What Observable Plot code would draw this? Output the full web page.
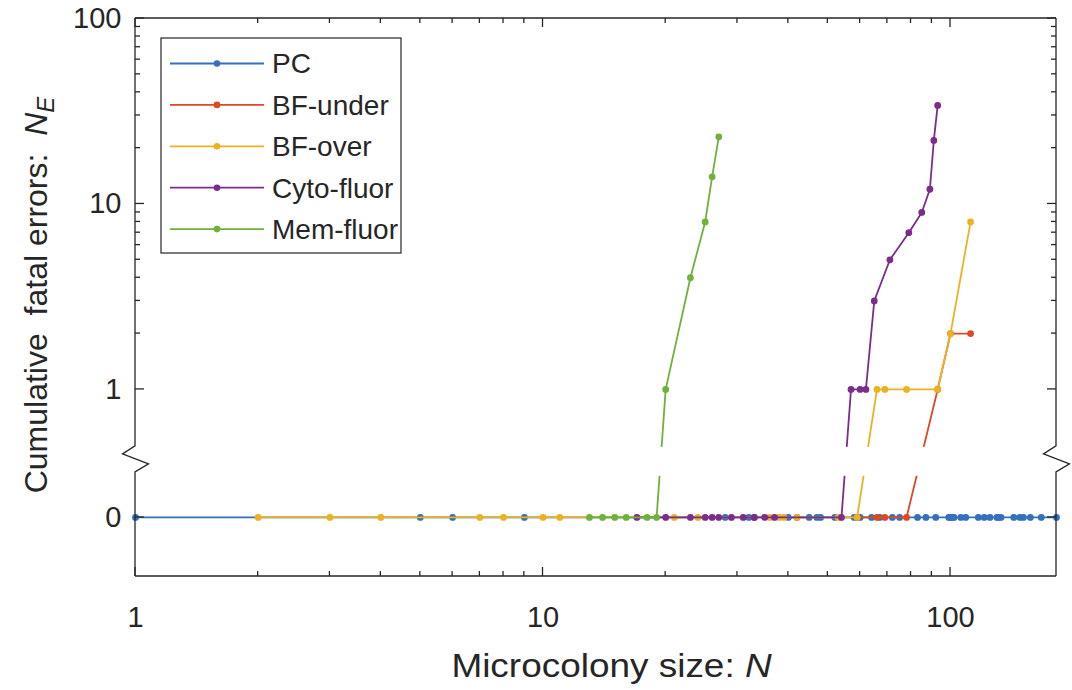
<!DOCTYPE html>
<html><head><meta charset="utf-8">
<script src="https://cdn.jsdelivr.net/npm/d3@7"></script>
<script src="https://cdn.jsdelivr.net/npm/@observablehq/plot@0.6"></script>
<style>
html,body{margin:0;padding:0;background:#fff;}
#chart{width:1072px;height:690px;}
</style></head><body><div id="chart"></div>
<script>
// ---------- data ----------
const seriesNames = ["PC", "BF-under", "BF-over", "Cyto-fluor", "Mem-fluor"];
const seriesColors = ["#3570BD", "#DB4A22", "#EDB120", "#7B2D8B", "#6FB13A"];

const pcN = [1, 5, 6, 9, 28, 32, 33, 40, 42, 45, 47, 48, 52, 58, 60, 64, 67, 72, 75, 83, 87, 92, 99, 100, 101, 102, 106, 109, 117, 121, 125, 130, 131, 133, 143, 148, 151, 157, 167, 182];
const pcE = [0, 0, 0, 0, 0, 0, 0, 0, 0, 0, 0, 0, 0, 0, 0, 0, 0, 0, 0, 0, 0, 0, 0, 0, 0, 0, 0, 0, 0, 0, 0, 0, 0, 0, 0, 0, 0, 0, 0, 0];

const bfUnderN = [59, 66, 69, 78, 93, 100, 112];
const bfUnderE = [0, 0, 0, 0, 1, 2, 2];

const bfOverN = [2, 3, 4, 7, 8, 10, 11, 21, 24, 36, 38, 39, 42, 53, 59, 66, 69, 78, 93, 100, 112];
const bfOverE = [0, 0, 0, 0, 0, 0, 0, 0, 0, 0, 0, 0, 0, 0, 0, 1, 1, 1, 1, 2, 8];

const cytoN = [17, 20, 23, 25, 26, 27, 29, 31, 33, 35, 37, 54, 57, 60, 62, 65, 71, 79, 85, 89, 91, 93];
const cytoE = [0, 0, 0, 0, 0, 0, 0, 0, 0, 0, 0, 0, 1, 1, 1, 3, 5, 7, 9, 12, 22, 34];

const memN = [13, 14, 15, 16, 18, 19, 20, 23, 25, 26, 27];
const memE = [0, 0, 0, 0, 0, 0, 1, 4, 8, 14, 23];

const xTicks = [1, 10, 100];
const xTickLabels = ["1", "10", "100"];
const yTicks = [0, 1, 10, 100];
const yTickLabels = ["0", "1", "10", "100"];
const minorTicks = [2, 3, 4, 5, 6, 7, 8, 9, 20, 30, 40, 50, 60, 70, 80, 90];

const xLabel = "Microcolony size: ";
const xLabelVar = "N";
const yLabel = "Cumulative  fatal errors:  ";
const yLabelVar = "N";
const yLabelSub = "E";

// ---------- broken-axis settings ----------
const ZERO = 0.204;            // where N_E = 0 sits on the log axis
const X_DOMAIN = [1, 182];
const Y_DOMAIN = [0.098, 100];
const GAP = [0.34, 0.487];     // axis break band
const toY = v => v === 0 ? ZERO : v;

const seriesData = [
  [pcN, pcE], [bfUnderN, bfUnderE], [bfOverN, bfOverE], [cytoN, cytoE], [memN, memE]
].map(([N, E], k) => N.map((n, i) => ({series: seriesNames[k], n, e: E[i]})));

const FONT = "'Liberation Sans', Arial, Helvetica, sans-serif";
const INK = "#262626";

const marks = [];
seriesData.forEach((d, k) => {
  marks.push(Plot.line(d, {x: "n", y: r => toY(r.e), stroke: seriesColors[k], strokeWidth: 1.8}));
  marks.push(Plot.dot(d, {x: "n", y: r => toY(r.e), fill: seriesColors[k], r: 3.4, stroke: "none"}));
});
marks.push(Plot.rect([{x1: X_DOMAIN[0], x2: X_DOMAIN[1], y1: GAP[0], y2: GAP[1]}],
  {x1: "x1", x2: "x2", y1: "y1", y2: "y2", fill: "white", inset: 0}));
marks.push(Plot.axisX(xTicks, {tickSize: 0, tickPadding: 30, tickFormat: d => xTickLabels[xTicks.indexOf(d)], fontSize: 29, fill: INK, label: null}));
marks.push(Plot.axisY(yTicks.map(toY), {tickSize: 0, tickPadding: 14, tickFormat: d => yTickLabels[yTicks.map(toY).indexOf(d)], fontSize: 29, fill: INK, label: null}));

const plot = Plot.plot({
  width: 1072, height: 690,
  marginLeft: 135, marginRight: 16, marginTop: 18, marginBottom: 114,
  x: {type: "log", domain: X_DOMAIN},
  y: {type: "log", domain: Y_DOMAIN},
  style: {fontFamily: FONT, background: "white", color: INK},
  marks
});
document.getElementById("chart").appendChild(plot);

// ---------- frame, ticks, break symbols, legend, labels ----------
const sx = plot.scale("x"), sy = plot.scale("y");
const X = v => sx.apply(v), Y = v => sy.apply(v);
const svg = d3.select(plot);
const L = X(X_DOMAIN[0]), R = X(X_DOMAIN[1]), T = Y(Y_DOMAIN[1]), B = Y(Y_DOMAIN[0]);
const g = svg.append("g").attr("stroke", INK).attr("stroke-width", 1.3).attr("fill", "none");
const gTop = Y(GAP[1]) - 1;

g.append("line").attr("x1", L).attr("x2", R).attr("y1", T).attr("y2", T);
g.append("line").attr("x1", L).attr("x2", R).attr("y1", B).attr("y2", B);
[L, R].forEach(x0 => {
  g.append("path").attr("d",
    `M${x0},${T}V${gTop}L${x0 - 12.5},${gTop + 8}L${x0 + 13.5},${gTop + 18}L${x0},${gTop + 26}V${B}`);
});
const MAJ = 9, MIN = 5;
yTicks.map(toY).forEach(v => {
  g.append("line").attr("x1", L).attr("x2", L + MAJ).attr("y1", Y(v)).attr("y2", Y(v));
  g.append("line").attr("x1", R).attr("x2", R - MAJ).attr("y1", Y(v)).attr("y2", Y(v));
});
minorTicks.filter(v => v < Y_DOMAIN[1]).forEach(v => {
  g.append("line").attr("x1", L).attr("x2", L + MIN).attr("y1", Y(v)).attr("y2", Y(v));
  g.append("line").attr("x1", R).attr("x2", R - MIN).attr("y1", Y(v)).attr("y2", Y(v));
});
xTicks.forEach(v => {
  g.append("line").attr("x1", X(v)).attr("x2", X(v)).attr("y1", B).attr("y2", B - MAJ);
  g.append("line").attr("x1", X(v)).attr("x2", X(v)).attr("y1", T).attr("y2", T + MAJ);
});
minorTicks.filter(v => v < X_DOMAIN[1]).forEach(v => {
  g.append("line").attr("x1", X(v)).attr("x2", X(v)).attr("y1", B).attr("y2", B - MIN);
  g.append("line").attr("x1", X(v)).attr("x2", X(v)).attr("y1", T).attr("y2", T + MIN);
});

// legend
const lg = svg.append("g");
lg.append("rect").attr("x", 161).attr("y", 38).attr("width", 240).attr("height", 215)
  .attr("fill", "white").attr("stroke", INK).attr("stroke-width", 1.2);
seriesNames.forEach((name, i) => {
  const yy = 63.5 + i * 41.4;
  lg.append("line").attr("x1", 170).attr("x2", 264).attr("y1", yy).attr("y2", yy)
    .attr("stroke", seriesColors[i]).attr("stroke-width", 1.8);
  lg.append("circle").attr("cx", 217).attr("cy", yy).attr("r", 3.3).attr("fill", seriesColors[i]);
  lg.append("text").attr("x", 272).attr("y", yy).attr("dy", "0.35em").attr("text-anchor", "start")
    .attr("font-size", 28).attr("fill", INK).attr("font-family", FONT).text(name);
});

// axis titles
const xt = svg.append("text").attr("transform", `translate(${(L + R) / 2 + 16},677) scale(1.12,1)`)
  .attr("text-anchor", "middle")
  .attr("font-size", 33).attr("fill", INK).attr("font-family", FONT).style("white-space", "pre");
xt.append("tspan").text(xLabel);
xt.append("tspan").attr("font-style", "italic").text(xLabelVar);

const yt = svg.append("text").attr("transform", `translate(47,${(T + B) / 2 - 2}) rotate(-90)`)
  .attr("text-anchor", "middle").attr("font-size", 32).attr("fill", INK).attr("font-family", FONT)
  .style("white-space", "pre");
yt.append("tspan").text(yLabel);
yt.append("tspan").attr("font-style", "italic").text(yLabelVar);
yt.append("tspan").attr("font-style", "italic").attr("font-size", 24).attr("dy", 7).text(yLabelSub);
</script></body></html>
